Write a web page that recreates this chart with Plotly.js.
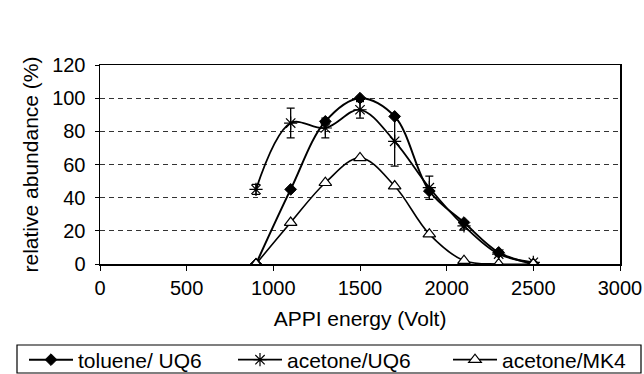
<!DOCTYPE html>
<html>
<head>
<meta charset="utf-8">
<script src="https://cdn.plot.ly/plotly-3.0.1.min.js"></script>
<style>html,body{margin:0;padding:0;background:#fff;}#chart{width:644px;height:374px;}</style>
</head>
<body>
<div id="chart"></div>
<script>
const energy = [900, 1100, 1300, 1500, 1700, 1900, 2100, 2300, 2500];
const tolueneUQ6 = [0, 45, 86, 100, 89, 44, 25, 7, 0];
const acetoneUQ6 = [45, 85, 82, 93, 74, 46, 23, 6, 1];
const acetoneUQ6Err = [3, 9, 6, 5, 15, 7, 2, 1, 0];
const acetoneMK4 = [0, 25, 49, 64, 47, 18, 2, 0, 0];
const seriesNames = ["toluene/ UQ6", "acetone/UQ6", "acetone/MK4"];
const xTicks = [0, 500, 1000, 1500, 2000, 2500, 3000];
const yTicks = [0, 20, 40, 60, 80, 100, 120];

const FAM = "Liberation Sans, Arial, sans-serif";
const font = {family: FAM, size: 21, color: "#000"};
const tickFont = {family: FAM, size: 20, color: "#000"};

const traces = [
  {
    x: energy, y: tolueneUQ6, name: seriesNames[0], type: "scatter", mode: "lines+markers",
    legend: "legend",
    line: {color: "#000", width: 2, shape: "spline", smoothing: 1},
    marker: {symbol: "diamond", size: 9, color: "#000", line: {color: "#000", width: 1}}
  },
  {
    x: energy, y: acetoneUQ6, name: seriesNames[1], type: "scatter", mode: "lines+markers",
    legend: "legend2",
    line: {color: "#000", width: 1.8, shape: "spline", smoothing: 1},
    marker: {symbol: "asterisk-open", size: 11, color: "#000", line: {color: "#000", width: 1.2}},
    error_y: {type: "data", array: acetoneUQ6Err, visible: true, color: "#000", thickness: 1.3, width: 4}
  },
  {
    x: energy, y: acetoneMK4, name: seriesNames[2], type: "scatter", mode: "lines+markers",
    legend: "legend3",
    line: {color: "#000", width: 1.6, shape: "spline", smoothing: 1},
    marker: {symbol: "triangle-up", size: 11, color: "#fff", line: {color: "#000", width: 1.2}}
  }
];

function legendAt(xPx) {
  return {
    orientation: "h",
    xref: "container", yref: "container",
    x: xPx / 644, xanchor: "left",
    y: (374 - 360) / 374, yanchor: "middle",
    bgcolor: "rgba(0,0,0,0)", borderwidth: 0,
    font: font, itemwidth: 44
  };
}

const layout = {
  width: 644, height: 374,
  margin: {l: 100, r: 24, t: 65, b: 110, autoexpand: false},
  paper_bgcolor: "#fff", plot_bgcolor: "#fff",
  font: font,
  showlegend: true,
  xaxis: {
    range: [0, 3000], tickvals: xTicks, ticktext: xTicks.map(String),
    showgrid: false, zeroline: false,
    showline: true, linecolor: "#000", linewidth: 1.5, mirror: true,
    ticks: "outside", ticklen: 5, tickcolor: "#000", tickwidth: 1,
    tickfont: tickFont,
    title: {text: "APPI energy (Volt)", font: font, standoff: 14}
  },
  yaxis: {
    range: [0, 120], tickvals: yTicks, ticktext: yTicks.map(String),
    showgrid: true, gridcolor: "#333", griddash: "5px,4px", gridwidth: 1,
    zeroline: false,
    showline: true, linecolor: "#000", linewidth: 1.5, mirror: true,
    ticks: "outside", ticklen: 4, tickcolor: "#000", tickwidth: 1,
    ticklabelstandoff: 5,
    tickfont: tickFont,
    title: {text: "relative abundance (%)", font: font, standoff: 8}
  },
  legend: legendAt(24),
  legend2: legendAt(233),
  legend3: legendAt(448),
  shapes: [{
    type: "rect", xref: "paper", yref: "paper",
    x0: (17 - 100) / 520, x1: (641 - 100) / 520,
    y0: (264 - 345) / 199, y1: (264 - 373) / 199,
    line: {color: "#000", width: 1.2}, fillcolor: "rgba(0,0,0,0)"
  }]
};

Plotly.newPlot("chart", traces, layout, {displayModeBar: false, staticPlot: true});
</script>
</body>
</html>
